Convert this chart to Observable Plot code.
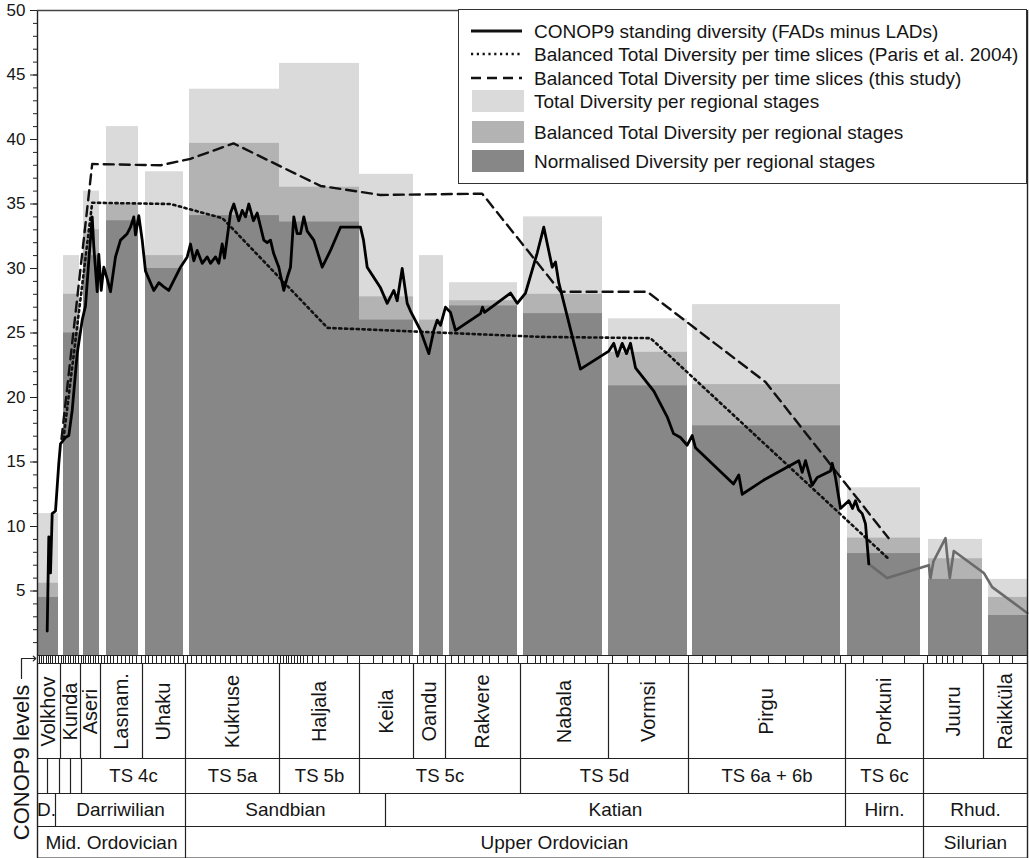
<!DOCTYPE html>
<html>
<head>
<meta charset="utf-8">
<script src="https://cdn.jsdelivr.net/npm/d3@7"></script>
<script src="https://cdn.jsdelivr.net/npm/@observablehq/plot@0.6"></script>
<style>
  body { margin: 0; background: #fff; }
  #wrap { position: relative; width: 1029px; height: 858px; font-family: "Liberation Sans", Arial, sans-serif; }
  #legend { position: absolute; left: 458px; top: 9px; width: 569px; height: 175px; box-sizing: border-box; border: 1.4px solid #333; background: #fff; }
</style>
</head>
<body>
<div id="wrap"><div id="chart"></div><div id="legend"></div></div>
<script>
// ---------- DATA (x = CONOP9 level position, y = diversity) ----------
const stages      = ["Volkhov","Kunda","Aseri","Lasnam.","Uhaku","Kukruse","Haljala","Keila","Oandu","Rakvere","Nabala","Vormsi","Pirgu","Porkuni","Juuru","Raikküla"];
const stageStart  = [0, 23, 43, 63, 105, 148, 242, 322, 376, 408, 483, 571, 651, 808, 886, 946];
const stageEnd    = [23, 43, 63, 105, 148, 242, 322, 376, 408, 483, 571, 651, 808, 886, 946, 990];
const barStart    = [0, 26, 46, 69, 108, 152, 242, 322, 382, 412, 486, 571, 655, 810, 891, 951];
const barEnd      = [21, 42, 62, 101, 146, 242, 322, 376, 406, 480, 565, 650, 803, 883, 945, 990];
const totalDiv    = [11, 31, 36, 41, 37.5, 43.9, 45.9, 37.3, 31, 28.9, 34, 26.1, 27.2, 13, 9, 5.9];
const balancedDiv = [5.6, 28, 33, 35, 31, 39.7, 36.3, 27.8, 26, 27.5, 28, 23.5, 21, 9.1, 7.5, 4.5];
const normDiv     = [4.5, 25, 31, 33.7, 30, 34.1, 33.6, 26, 25, 27.1, 26.5, 20.9, 17.8, 7.9, 5.9, 3.1];

const conopLevel = [9.7,11.3,13,14.7,18,21.3,23,28,31.3,34.7,39.7,44.7,48,51.3,54.7,56.3,59.7,61.3,63.7,66.3,69.7,73,78,83,89.7,93,96.3,98,101.3,104.7,108,116.3,121.3,126,131.3,143,149.7,153,156.3,159.7,164.7,169.7,173,178,181.3,184.7,187,193,196.3,201.3,204.7,208,211.3,216,219.7,226.3,229.7,233,236,241.3,246.3,249.7,253,256.3,259.7,263,266.3,269.7,276.3,284.7,293,296.3,303,323,326,329.7,343,349.7,356.3,359.7,364.7,369.7,373,383,391.3,396.3,399.7,403,408,413,418,443,445,447,473,479.7,488,499.7,506.3,514.7,518,521.3,543,571.3,576.3,580,584.7,589,593,598,616.3,629.7,636,643,649.7,654.7,658,696,701.3,704.7,726.3,761.3,764.7,768,774.7,779.7,793,794.7,798,803,811.3,815,818,821,824.7,828,831.3];
const conopDiv   = [1.9,9.2,6.4,11,11.2,14.9,16.4,16.9,17.05,19,23.4,26,27.1,30.6,34,31.7,28.2,31.1,28.3,30.1,29.2,28.2,30.9,32.2,32.7,33.2,34,32.6,34.1,32.2,29.8,28.3,28.9,28.6,28.3,30.1,30.9,31.9,30.6,31.4,30.4,30.9,30.4,30.9,30.4,31.9,30.8,34.3,35,33.7,34.5,34,35,33.7,34.3,32.2,32,32.2,31.2,30.1,28.3,29.3,30.1,34,32.7,32.7,34,32.9,32.2,30.1,31.4,32,33.2,33.2,32.2,30.1,28.5,27.3,28.3,27.5,30,27.3,26.7,25.2,23.4,25.2,26,25.6,27,26.6,25.2,26.5,27,26.6,28.1,27.3,28.1,31.2,33.2,30.1,30.5,28.9,22.2,23.6,24.2,23.2,24.2,23.4,24.2,22.3,20.5,18.5,17.2,16.9,16.3,17.05,16.1,13.3,14,12.5,13.6,15.1,14.2,15.1,13.2,13.8,14.3,14.9,13.8,11.4,12,11.4,12,11.3,11,10.2,7.1];
const siluLevel  = [831.3,849.7,891.3,893,896,908,910,912.3,916.3,946.3,954.7,989.7];
const siluDiv    = [7.1,6.0,7.0,6.0,7.3,9.1,7.5,6.0,8.1,6.4,5.3,3.3];

const parisLevel = [26, 54.7, 133, 185, 290, 503, 613, 851];
const parisDiv   = [16.8, 35.1, 35, 33.9, 25.4, 24.7, 24.6, 7.5];
const studyLevel = [24, 54.7, 123, 153, 196, 283, 343, 444.7, 523, 609.7, 728, 851];
const studyDiv   = [16.8, 38.1, 38, 38.5, 39.7, 36.4, 35.7, 35.8, 28.2, 28.2, 21.2, 9.1];

const eventLevels = [2,4,6,9,11,13,15,18,21,24,26,28,31,33,36,38,41,44,46,48,51,53,56,58,61,64,67,70,73,76,80,84,88,92,95,99,104,108,111,115,119,124,128,133,137,141,146,150,154,159,164,169,173,178,183,188,193,199,204,210,215,220,226,231,236,240,243,246,249,251,254,257,260,263,266,270,275,281,288,296,310,322,336,345,356,364,372,380,386,393,400,408,414,421,427,436,445,452,461,470,481,490,498,503,509,516,526,537,548,560,575,590,602,618,632,651,665,678,694,713,731,748,766,784,797,803,814,826,845,867,890,899,905,910,916,925,944,962,975];

const yTicks = [5,10,15,20,25,30,35,40,45,50];

const tsLines   = [10, 22, 33, 44, 148, 242, 322, 483, 651, 808, 886];
const tsNames   = ["TS 4c","TS 5a","TS 5b","TS 5c","TS 5d","TS 6a + 6b","TS 6c"];
const tsStart   = [44, 148, 242, 322, 483, 651, 808];
const tsEnd     = [148, 242, 322, 483, 651, 808, 886];
const seriesNames = ["D.","Darriwilian","Sandbian","Katian","Hirn.","Rhud."];
const seriesStart = [0, 18, 148, 348, 808, 886];
const seriesEnd   = [18, 148, 348, 808, 886, 990];
const epochNames  = ["Mid. Ordovician","Upper Ordovician","Silurian"];
const epochStart  = [0, 148, 886];
const epochEnd    = [148, 886, 990];

// ---------- LAYOUT ----------
const PX0 = 655, PXU = 12.9;            // pixel of diversity 0, pixels per unit
const py = p => (PX0 - p) / PXU;         // pixel row -> y value (for the table below the chart)
const yStrip = py(663), yStage = py(758), yTS = py(793), ySeries = py(826), yBottom = py(858);

const C_LIGHT = "#dadada", C_MED = "#b3b3b3", C_DARK = "#878787";

const bars = stages.map((s, i) => ({stage: s, x1: barStart[i], x2: barEnd[i], total: totalDiv[i], balanced: balancedDiv[i], norm: normDiv[i]}));
const stageCells = stages.map((s, i) => ({name: s, x1: stageStart[i], x2: stageEnd[i]}));
const conop = conopLevel.map((x, i) => ({x, y: conopDiv[i]}));
const silu = siluLevel.map((x, i) => ({x, y: siluDiv[i]}));
const paris = parisLevel.map((x, i) => ({x, y: parisDiv[i]}));
const study = studyLevel.map((x, i) => ({x, y: studyDiv[i]}));
const tsCells = tsNames.map((n, i) => ({name: n, x1: tsStart[i], x2: tsEnd[i]}));
const seriesCells = seriesNames.map((n, i) => ({name: n, x1: seriesStart[i], x2: seriesEnd[i]}));
const epochCells = epochNames.map((n, i) => ({name: n, x1: epochStart[i], x2: epochEnd[i]}));
const mid = d => (d.x1 + d.x2) / 2;
const TXT = "#151515";

const chart = Plot.plot({
  width: 1029, height: 858,
  marginTop: 10, marginBottom: 0, marginLeft: 37, marginRight: 2,
  x: {domain: [0, 990], axis: null},
  y: {domain: [yBottom, 50], axis: null},
  style: {fontFamily: "'Liberation Sans', Arial, sans-serif", background: "white", color: TXT},
  marks: [
    Plot.rect(bars, {x1: "x1", x2: "x2", y1: 0, y2: "total", fill: C_LIGHT}),
    Plot.rect(bars, {x1: "x1", x2: "x2", y1: 0, y2: "balanced", fill: C_MED}),
    Plot.rect(bars, {x1: "x1", x2: "x2", y1: 0, y2: "norm", fill: C_DARK}),
    Plot.line(paris, {x: "x", y: "y", stroke: "#111", strokeWidth: 2.6, strokeDasharray: "2.2,3.6"}),
    Plot.line(study, {x: "x", y: "y", stroke: "#111", strokeWidth: 2.4, strokeDasharray: "10,6"}),
    Plot.line(silu, {x: "x", y: "y", stroke: "#6a6a6a", strokeWidth: 2.6}),
    Plot.line(conop, {x: "x", y: "y", stroke: "#000", strokeWidth: 2.8}),
    // axes and frame
    Plot.axisY(d3.range(1, 51), {tickSize: 4, tickFormat: () => "", stroke: "#222"}),
    Plot.axisY(yTicks, {tickSize: 7, tickPadding: 5, fontSize: 17, stroke: "#222", label: null}),
    Plot.ruleX([0], {stroke: "#222", strokeWidth: 1.4}),
    Plot.ruleX([990], {stroke: "#222", strokeWidth: 1.4}),
    Plot.ruleY([50], {stroke: "#444", strokeWidth: 1.4}),
    // CONOP9 level strip
    Plot.ruleX(eventLevels, {x: d => d, y1: yStrip, y2: 0, stroke: "#222", strokeWidth: 1}),
    Plot.ruleY([0, yStrip, yStage, yTS, ySeries], {stroke: "#222", strokeWidth: 1.2}),
    Plot.ruleY([yBottom], {stroke: "#222", strokeWidth: 2}),
    // stage row
    Plot.ruleX(stageStart.slice(1), {x: d => d, y1: yStrip, y2: yStage, stroke: "#222", strokeWidth: 1.2}),
    Plot.text(stageCells, {x: mid, y: py(711), text: "name", rotate: -90, fontSize: 20, fill: TXT}),
    // time slice row
    Plot.ruleX(tsLines, {x: d => d, y1: yStage, y2: yTS, stroke: "#222", strokeWidth: 1.2}),
    Plot.text(tsCells, {x: mid, y: py(775.5), text: "name", fontSize: 18.5, fill: TXT}),
    // series row
    Plot.ruleX(seriesStart.slice(1), {x: d => d, y1: yTS, y2: ySeries, stroke: "#222", strokeWidth: 1.2}),
    Plot.text(seriesCells, {x: mid, y: py(809.5), text: "name", fontSize: 19, fill: TXT}),
    // epoch row
    Plot.ruleX(epochStart.slice(1), {x: d => d, y1: ySeries, y2: yBottom, stroke: "#222", strokeWidth: 1.2}),
    Plot.text(epochCells, {x: mid, y: py(842), text: "name", fontSize: 19, fill: TXT}),
    // CONOP9 levels label and arrow
    Plot.text(["CONOP9 levels"], {x: -16, y: py(762), text: d => d, rotate: -90, fontSize: 22, fill: TXT}),
    Plot.line([{x: -16, y: py(678)}, {x: -16, y: py(658)}, {x: -3, y: py(658)}], {x: "x", y: "y", stroke: "#222", strokeWidth: 1.2, markerEnd: "arrow"})
  ]
});
document.getElementById("chart").appendChild(chart);

// ---------- LEGEND ----------
const legendItems = [
  {label: "CONOP9 standing diversity (FADs minus LADs)", type: "line", dash: null, w: 2.8},
  {label: "Balanced Total Diversity per time slices (Paris et al. 2004)", type: "line", dash: "2.2,3.6", w: 2.6},
  {label: "Balanced Total Diversity per time slices (this study)", type: "line", dash: "10,6", w: 2.4},
  {label: "Total Diversity per regional stages", type: "rect", fill: C_LIGHT},
  {label: "Balanced Total Diversity per regional stages", type: "rect", fill: C_MED},
  {label: "Normalised Diversity per regional stages", type: "rect", fill: C_DARK}
];
const rowY = [21, 44, 68, 91, 122, 151];
const lsvg = d3.select("#legend").append("svg").attr("width", 567).attr("height", 173)
  .style("font-family", "'Liberation Sans', Arial, sans-serif");
legendItems.forEach((d, i) => {
  const y = rowY[i];
  if (d.type === "line") {
    lsvg.append("line").attr("x1", 12).attr("x2", 63).attr("y1", y).attr("y2", y)
      .attr("stroke", "#111").attr("stroke-width", d.w).attr("stroke-dasharray", d.dash);
  } else {
    lsvg.append("rect").attr("x", 13).attr("y", y - 11).attr("width", 52).attr("height", 22).attr("fill", d.fill);
  }
  lsvg.append("text").attr("x", 75).attr("y", y).attr("dy", "0.35em").attr("font-size", 19).attr("fill", TXT).text(d.label);
});
</script>
</body>
</html>
